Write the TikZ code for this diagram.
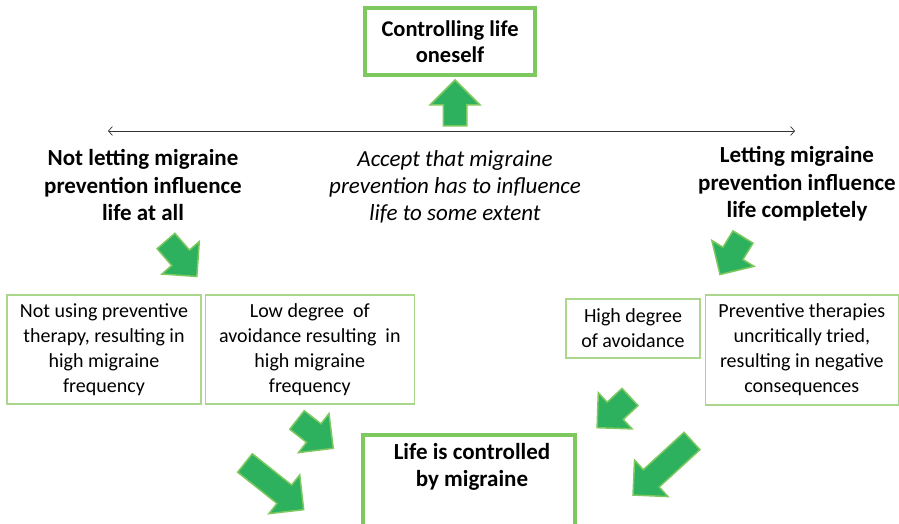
\documentclass[tikz,border=0pt]{standalone}
\usepackage{fontspec}
\setmainfont{Carlito}
\usetikzlibrary{positioning,shapes.arrows,arrows.meta}

\definecolor{frame}{RGB}{125,200,95}
\definecolor{thinframe}{RGB}{170,215,140}
\definecolor{arrowfill}{RGB}{45,177,94}

\begin{document}
\begin{tikzpicture}[x=1pt,y=-1pt,>={Straight Barb[length=4pt,width=9pt]},
    head/.style={font=\fontsize{23}{27.5}\selectfont\bfseries,align=center,inner sep=0pt},
    bigbox/.style={draw=frame,line width=3.5pt,rectangle,inner sep=0pt,align=center,
        font=\fontsize{22.5}{26}\selectfont\bfseries},
    smallbox/.style={draw=thinframe,line width=1.3pt,rectangle,inner sep=0pt,align=center,
        font=\fontsize{20}{25}\selectfont},
    blockarrow/.style={single arrow,draw=frame,fill=arrowfill,line width=1.5pt,
        inner sep=11pt,single arrow head extend=13pt,anchor=tail,outer sep=0pt}]

            \useasboundingbox (0,0) rectangle (899,524);
            \clip (0,0) rectangle (899,524);

            \node[bigbox, minimum width=170, minimum height=67] (top) at (450,41.5) {Controlling life\\oneself};
            \node[blockarrow, minimum height=46, rotate=90] (up) at (455,126) {};

            \coordinate (axl) at (108,131);
            \coordinate (axr) at (795,131);
            \draw[<->, line width=0.7pt, draw=black!80] (axl) to (axr);

            \node[head] (left) at (143,185) {Not letting migraine\\prevention influence\\life at all};
            \node[head, font=\fontsize{23}{27}\selectfont\itshape] (mid) at (455,187) {Accept that migraine\\prevention has to influence\\life to some extent};
            \node[head] (right) at (797,184) {Letting migraine\\prevention influence\\life completely};

            \node[blockarrow, minimum height=47, rotate=-49] (a1) at (166,241) {};
            \node[blockarrow, minimum height=44, rotate=-121.5] (a2) at (743,237) {};

            \node[smallbox, minimum width=194, minimum height=109] (b1) at (104,349.5) {Not using preventive\\therapy, resulting in\\high migraine\\frequency};
            \node[smallbox, minimum width=209, minimum height=109, right=3pt of b1] (b2) {Low degree~ of\\avoidance resulting~ in\\high migraine\\frequency};
            \node[smallbox, minimum width=134, minimum height=59] (b3) at (633,328.5) {High degree\\of avoidance};
            \node[smallbox, minimum width=193, minimum height=110, right=4pt of b3.north east, anchor=north west, yshift=4pt] (b4) {Preventive therapies\\uncritically tried,\\resulting in negative\\consequences};

            \node[blockarrow, minimum height=46, rotate=-38] (a3) at (297,420) {};
            \node[blockarrow, minimum height=75, rotate=-38.5] (a4) at (245,463) {};
            \node[blockarrow, minimum height=45, rotate=-137] (a5) at (630,397) {};
            \node[blockarrow, minimum height=80, rotate=-137.5] (a6) at (692,441) {};

            \node[bigbox, minimum width=212, minimum height=120, anchor=north] (life) at (469,433) {};
            \node[bigbox, draw=none, font=\fontsize{23}{27}\selectfont\bfseries] (lifetext) at (472,467) {Life is controlled\\by migraine};

            ;
        \end{tikzpicture}
\end{document}
